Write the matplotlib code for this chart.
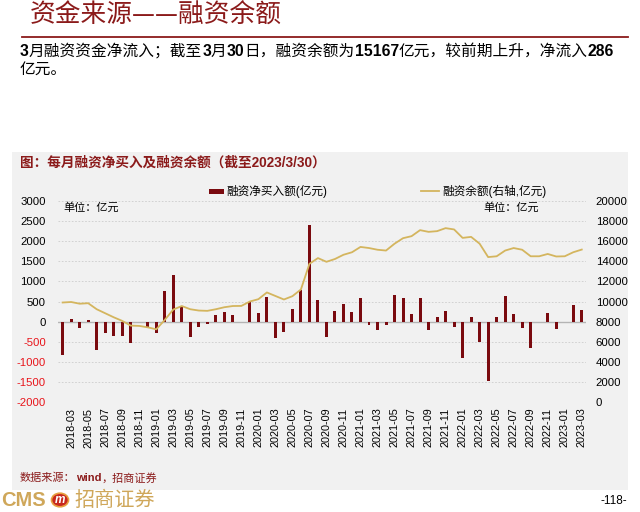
import matplotlib
matplotlib.use("Agg")
import matplotlib.pyplot as plt
import numpy as np
from matplotlib.patches import Rectangle, Circle

plt.rcParams['font.family'] = ['Liberation Sans', 'Noto Sans CJK SC', 'DejaVu Sans']

# =========================================================
# DATA
# =========================================================

months = [f"{y}-{m:02d}" for y in range(2018, 2024) for m in range(1, 13)]
months = months[months.index("2018-02"):months.index("2023-03") + 1]

net_buy = [
    -840, 60, -170, 40, -710, -290, -350, -350, -540, 0,
    -125, -275, 750, 1165, 375, -375, -125, -50, 160, 240,
    160, 0, 500, 210, 620, -400, -250, 305, 790, 2410,
    540, -375, 265, 430, 250, 585, -95, -210, -75, 665,
    585, 190, 585, -215, 108, 270, -125, -915, 108, -500,
    -1475, 108, 645, 180, -167, -667, 0, 208, -192, 0,
    425, 286,
]

balance = [
    9900, 9950, 9780, 9830, 9230, 8830, 8430, 8070, 7600, 7570,
    7430, 7230, 8170, 9200, 9550, 9230, 9100, 9070, 9230, 9430,
    9550, 9560, 10000, 10230, 10900, 10550, 10200, 10530, 11200, 13750,
    14320, 13950, 14230, 14650, 14900, 15430, 15320, 15150, 15070, 15750,
    16300, 16500, 17100, 16930, 17000, 17300, 17170, 16330, 16430, 15750,
    14420, 14500, 15070, 15320, 15150, 14500, 14500, 14730, 14480, 14500,
    14900, 15167,
]

left_ticks = [3000, 2500, 2000, 1500, 1000, 500, 0, -500, -1000, -1500, -2000]
right_ticks = [20000, 18000, 16000, 14000, 12000, 10000, 8000, 6000, 4000, 2000, 0]

DARK_RED = "#8B1A1A"
BAR_RED = "#7A0A0F"
GOLD = "#D4B55E"

# =========================================================
# FIGURE
# =========================================================

fig = plt.figure(figsize=(6.4, 5.12), dpi=100)
W, H = 640, 512


def fx(px):
    return px / W


def fy(py):
    return 1 - py / H


def rich_text(x, y, parts, size, color="black"):
    renderer = fig.canvas.get_renderer()
    for s, bold in parts:
        t = fig.text(x, y, s, fontsize=size, color=color,
                     fontweight="bold" if bold else "normal", va="center")
        bb = t.get_window_extent(renderer)
        x += bb.width / fig.bbox.width


# ---- header ----
fig.text(fx(30), fy(16), "资金来源——融资余额", fontsize=18.5, color=DARK_RED,
         va="center", family=['Noto Sans CJK SC'])
fig.add_artist(plt.Line2D([fx(22), fx(628)], [fy(37), fy(37)], color=DARK_RED, lw=1.3))

rich_text(fx(20), fy(51), [("3", True), ("月融资资金净流入；截至", False), ("3", True),
                           ("月", False), ("30", True), ("日，融资余额为", False),
                           ("15167", True), ("亿元，较前期上升，净流入", False),
                           ("286", True)], 11.3)
rich_text(fx(20), fy(69), [("亿元。", False)], 11.3)

# ---- gray panel ----
fig.add_artist(Rectangle((fx(12), fy(490)), fx(616), (490 - 152) / H,
                         facecolor="#F1F1F1", edgecolor="none", zorder=-10))

fig.text(fx(20), fy(163), "图：每月融资净买入及融资余额（截至2023/3/30）", fontsize=9.8,
         color=DARK_RED, va="center", fontweight="bold")

# ---- axes ----
ax = fig.add_axes([fx(58.4), fy(402), fx(586 - 58.4), (402 - 201) / H])
ax.set_facecolor("none")
x = np.arange(len(months))

for t in left_ticks:
    if t == 0:
        continue
    ax.axhline(t, color="#CDCDCD", lw=0.6, ls=(0, (2, 2)), zorder=0)

ax.bar(x, net_buy, width=0.35, color=BAR_RED, zorder=3, label="融资净买入额(亿元)")
ax.axhline(0, color="#B4B4B4", lw=1.0, zorder=2)
ax.set_ylim(-2000, 3000)
ax.set_xlim(-0.5, len(months) - 0.5)
ax.set_yticks(left_ticks)
ax.set_yticklabels([str(t) for t in left_ticks], fontsize=8.2)
for lab, t in zip(ax.get_yticklabels(), left_ticks):
    lab.set_color("#E8141A" if t < 0 else "black")
ax.tick_params(axis="y", length=0, pad=9)
ax.set_xticks(x[1::2])
ax.set_xticklabels(months[1::2], rotation=90, fontsize=7.8)
ax.tick_params(axis="x", length=0, pad=4)
for s in ax.spines.values():
    s.set_visible(False)

ax2 = ax.twinx()
ax2.plot(x, balance, color=GOLD, lw=1.3, zorder=4, label="融资余额(右轴,亿元)")
ax2.set_ylim(0, 20000)
ax2.set_yticks(right_ticks)
ax2.set_yticklabels([str(t) for t in right_ticks], fontsize=8.2)
ax2.tick_params(axis="y", length=0, pad=7)
for s in ax2.spines.values():
    s.set_visible(False)

# ---- legend ----
fig.add_artist(Rectangle((fx(209), fy(194)), fx(15), 5 / H, facecolor=BAR_RED,
                         edgecolor="none"))
fig.text(fx(226), fy(191), "融资净买入额(亿元)", fontsize=8.4, va="center")
fig.add_artist(plt.Line2D([fx(421), fx(439)], [fy(191), fy(191)], color=GOLD, lw=1.3))
fig.text(fx(442), fy(191), "融资余额(右轴,亿元)", fontsize=8.4, va="center")

fig.text(fx(63), fy(207), "单位：亿元", fontsize=8, va="center", style="italic")
fig.text(fx(483), fy(207), "单位：亿元", fontsize=8, va="center", style="italic")

# ---- source ----
rich_text(fx(20), fy(478), [("数据来源：", False), ("wind", True), ("，招商证券", False)],
          8, color=DARK_RED)

# ---- footer ----
fig.text(fx(1), fy(500), "CMS", fontsize=14.5, color="#CFA75A", va="center", fontweight="bold")
fig.add_artist(Circle((fx(60), fy(500)), 8.5 / W, facecolor="#C8281E",
                      edgecolor="#E8A040", lw=1.2, transform=fig.transFigure))
fig.text(fx(60), fy(500), "m", fontsize=8.5, color="white", ha="center", va="center",
         fontweight="bold", style="italic")
fig.text(fx(74), fy(500), "招商证券", fontsize=14.5, color="#CFA75A", va="center",
         family=['Noto Sans CJK SC'])
fig.text(fx(627), fy(501), "-118-", fontsize=8.5, ha="right", va="center")

fig.savefig("out.png", dpi=100, facecolor="white")
